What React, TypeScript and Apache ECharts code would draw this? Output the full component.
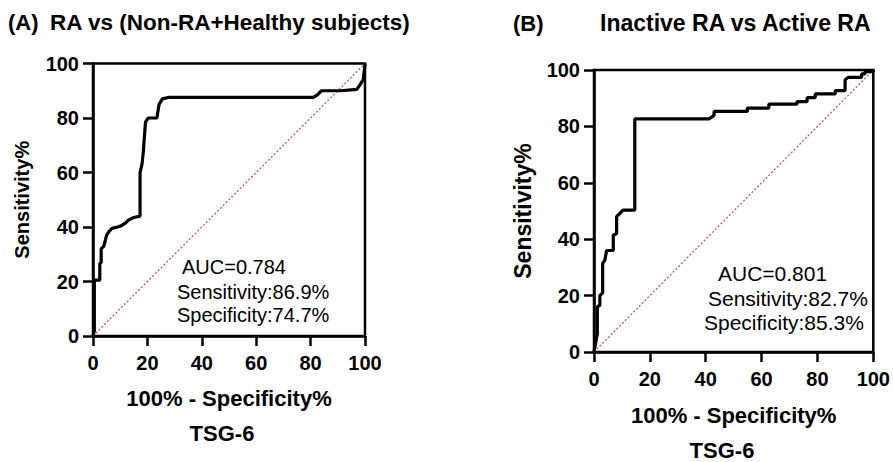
import React, { useEffect, useRef } from "react";
import * as echarts from "echarts";

// Panel A: RA vs (Non-RA+Healthy subjects) ROC curve points [100% - Specificity%, Sensitivity%]
const rocA: number[][] = [
  [0, 0], [0.5, 2], [0.5, 20.5], [2.5, 20.5], [2.5, 26.5], [3, 27], [3, 32], [4, 33],
  [4.5, 35], [5, 37], [6, 38.5], [7, 39.5], [9, 40], [10.5, 40.5], [12, 41.5], [13, 42.5],
  [15, 43.5], [17.3, 44], [17.3, 60], [18, 63], [18.5, 67.5], [18.8, 72], [19.3, 78.5],
  [20.3, 80], [23.5, 80], [23.8, 82], [24.3, 85], [25.5, 87], [28, 87.6], [81, 87.6],
  [82.5, 88.5], [84, 90], [91, 90], [97, 90.5], [98, 92], [99.3, 94], [100, 99.5], [100, 100],
];

// Panel B: Inactive RA vs Active RA ROC curve points
const rocB: number[][] = [
  [0, 0], [1.2, 6.6], [1.2, 16], [2.1, 16.6], [2.1, 20], [3.1, 21], [3.1, 31.4], [3.9, 32.6],
  [4.5, 36], [6.9, 36], [6.9, 41.4], [8.1, 42], [8.1, 48], [10.4, 50.3], [14.6, 50.3],
  [14.6, 82.7], [41.3, 82.7], [43, 84], [43, 85.3], [54.9, 85.3], [54.9, 86.5], [62.6, 86.5],
  [62.6, 87.9], [72.7, 87.9], [72.7, 88.8], [76.3, 88.8], [76.3, 90.2], [79.2, 90.2],
  [79.2, 91.5], [86.4, 91.5], [86.4, 92.7], [89.9, 92.7], [89.9, 96.5], [91, 97.4],
  [95.8, 97.4], [95.8, 98.6], [97, 98.6], [97, 99.4], [100, 99.4], [100, 100],
];

const reference: number[][] = [[0, 0], [100, 100]];

const titleTagA = "(A)";
const titleA = "RA vs (Non-RA+Healthy subjects)";
const titleTagB = "(B)";
const titleB = "Inactive RA vs Active RA";
const xName = "100% - Specificity%";
const yName = "Sensitivity%";
const markerName = "TSG-6";
const statsA = ["AUC=0.784", "Sensitivity:86.9%", "Specificity:74.7%"];
const statsB = ["AUC=0.801", "Sensitivity:82.7%", "Specificity:85.3%"];

const FONT = 'Arial, "Liberation Sans", Helvetica, sans-serif';

export default function App() {
  const ref = useRef<HTMLDivElement>(null);
  useEffect(() => {
    if (!ref.current) return;
    const chart = echarts.init(ref.current, undefined, { renderer: "svg" });

    const gridA = { left: 93, top: 63.5, width: 272, height: 272.5 };
    const gridB = { left: 594, top: 70, width: 281, height: 282 };

    const axisCommon = {
      type: "value" as const,
      min: 0,
      max: 100,
      interval: 20,
      splitLine: { show: false },
      axisLine: { show: true, onZero: false, lineStyle: { color: "#000", width: 2.5 } },
      axisTick: { show: true, inside: false, length: 10, lineStyle: { color: "#000", width: 2.5 } },
      nameLocation: "middle" as const,
    };

    const xAxis = (gridIndex: number, gap: number) => ({
      ...axisCommon,
      gridIndex,
      name: xName,
      nameGap: gap,
      nameTextStyle: { fontFamily: FONT, fontWeight: "bold", fontSize: 22, color: "#000" },
      axisLabel: { margin: 17, fontFamily: FONT, fontWeight: "bold", fontSize: 20, color: "#000" },
    });
    const yAxis = (gridIndex: number, size: number, gap: number) => ({
      ...axisCommon,
      gridIndex,
      name: yName,
      nameGap: gap,
      nameTextStyle: { fontFamily: FONT, fontWeight: "bold", fontSize: size, color: "#000" },
      axisLabel: { margin: 14, fontFamily: FONT, fontWeight: "bold", fontSize: 20, color: "#000" },
    });

    const curve = (data: number[][], idx: number) => ({
      type: "line" as const,
      xAxisIndex: idx,
      yAxisIndex: idx,
      data,
      showSymbol: false,
      symbol: "none",
      lineStyle: { color: "#000", width: 3.2 },
      z: 3,
    });
    const diag = (idx: number) => ({
      type: "line" as const,
      xAxisIndex: idx,
      yAxisIndex: idx,
      data: reference,
      showSymbol: false,
      symbol: "none",
      lineStyle: { color: "#d04848", width: 1.2, type: [2, 2] as any },
      z: 2,
    });

    const txt = (
      text: string,
      x: number,
      y: number,
      size: number,
      bold: boolean,
      align: string = "left"
    ) => ({
      type: "text",
      x,
      y,
      style: {
        text,
        fontFamily: FONT,
        fontSize: size,
        fontWeight: bold ? "bold" : "normal",
        fill: "#000",
        align,
        verticalAlign: "middle",
      },
    });

    chart.setOption({
      animation: false,
      backgroundColor: "#fff",
      grid: [
        { ...gridA, show: true, borderColor: "#000", borderWidth: 2.5, backgroundColor: "transparent" },
        { ...gridB, show: true, borderColor: "#000", borderWidth: 2.5, backgroundColor: "transparent" },
      ],
      xAxis: [xAxis(0, 51), xAxis(1, 52)],
      yAxis: [yAxis(0, 20, 61), yAxis(1, 23, 60)],
      series: [diag(0), curve(rocA, 0), diag(1), curve(rocB, 1)],
      graphic: [
        txt(titleTagA, 8, 22, 22, true),
        txt(titleA, 50, 22, 22.5, true),
        txt(titleTagB, 513, 23, 22, true),
        txt(titleB, 600, 23, 23, true),
        txt(markerName, 222, 433, 22, true, "center"),
        txt(markerName, 722, 450, 22, true, "center"),
        txt(statsA[0], 182, 267, 20, false),
        txt(statsA[1], 177, 292, 20, false),
        txt(statsA[2], 177, 315, 20, false),
        txt(statsB[0], 718, 273, 21, false),
        txt(statsB[1], 708, 298, 21, false),
        txt(statsB[2], 704, 322, 21, false),
      ],
    });
    return () => chart.dispose();
  }, []);
  return (
    <div
      ref={ref}
      style={{ position: "fixed", left: 0, top: 0, width: 893, height: 462 }}
    />
  );
}
